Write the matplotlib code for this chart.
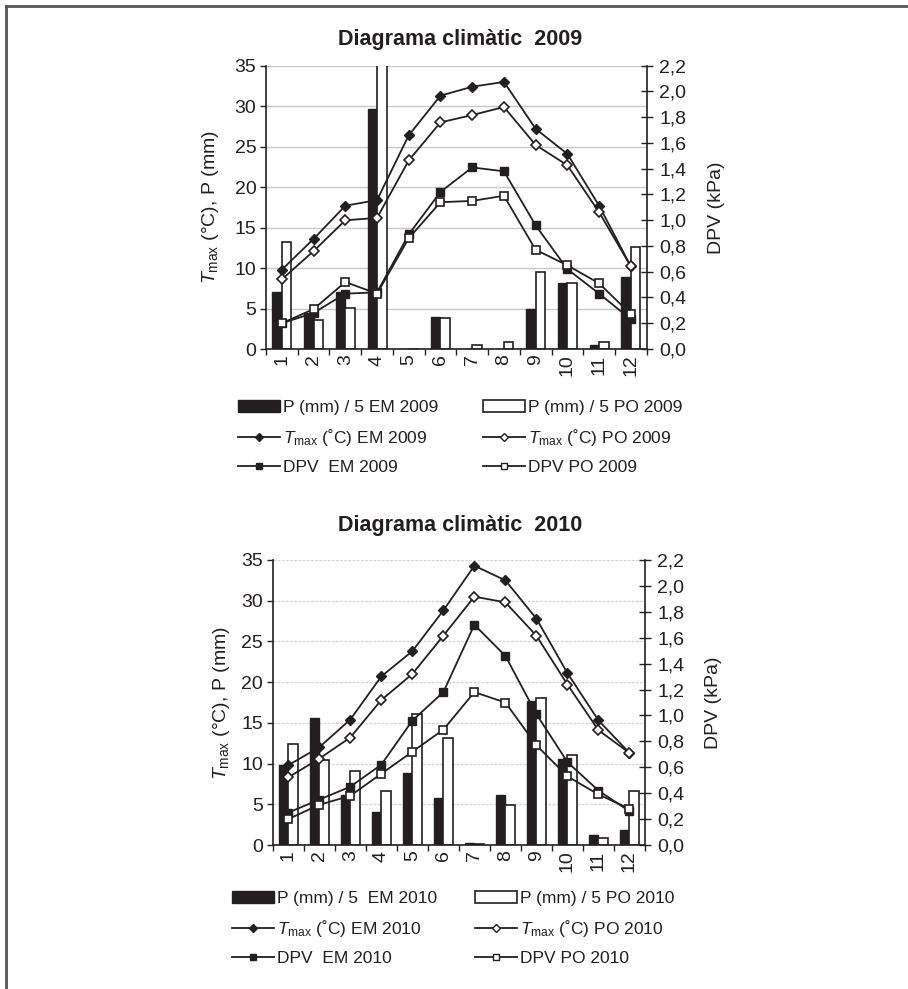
import numpy as np
import matplotlib
matplotlib.use("Agg")
import matplotlib.pyplot as plt
from matplotlib.lines import Line2D
from matplotlib.patches import Patch
from matplotlib.ticker import FuncFormatter, MultipleLocator

plt.rcParams['font.family'] = ['Liberation Sans', 'DejaVu Sans']
plt.rcParams['mathtext.fontset'] = 'custom'
plt.rcParams['mathtext.rm'] = 'Liberation Sans'
plt.rcParams['mathtext.it'] = 'Liberation Sans:italic'
plt.rcParams['mathtext.bf'] = 'Liberation Sans:bold'

months = ['1', '2', '3', '4', '5', '6', '7', '8', '9', '10', '11', '12']

# ---- 2009 ----
p_em_2009 = [7.0, 4.5, 7.0, 29.6, 0.0, 4.0, 0.0, 0.0, 4.9, 8.1, 0.5, 8.9]
p_po_2009 = [13.2, 3.6, 5.1, 40.0, 0.0, 3.8, 0.5, 0.9, 9.5, 8.1, 0.9, 12.6]
tmax_em_2009 = [9.8, 13.6, 17.7, 18.4, 26.4, 31.3, 32.4, 33.0, 27.2, 24.1, 17.7, 10.2]
tmax_po_2009 = [8.6, 12.1, 15.9, 16.2, 23.3, 28.0, 28.9, 29.9, 25.2, 22.7, 16.9, 10.2]
dpv_em_2009 = [0.20, 0.28, 0.43, 0.44, 0.89, 1.22, 1.41, 1.38, 0.96, 0.62, 0.43, 0.23]
dpv_po_2009 = [0.20, 0.31, 0.52, 0.43, 0.86, 1.14, 1.15, 1.19, 0.77, 0.65, 0.51, 0.27]

# ---- 2010 ----
p_em_2010 = [9.8, 15.6, 6.2, 4.0, 8.8, 5.8, 0.2, 6.2, 17.7, 10.6, 1.2, 1.8]
p_po_2010 = [12.4, 10.5, 9.1, 6.6, 16.1, 13.2, 0.1, 4.9, 18.0, 11.1, 0.8, 6.6]
tmax_em_2010 = [9.8, 12.0, 15.4, 20.7, 23.8, 28.8, 34.3, 32.5, 27.8, 21.1, 15.3, 11.3]
tmax_po_2010 = [8.3, 10.6, 13.2, 17.8, 21.0, 25.7, 30.5, 29.8, 25.7, 19.7, 14.1, 11.3]
dpv_em_2010 = [0.25, 0.35, 0.45, 0.62, 0.96, 1.18, 1.70, 1.46, 1.01, 0.64, 0.42, 0.26]
dpv_po_2010 = [0.20, 0.31, 0.38, 0.55, 0.72, 0.89, 1.18, 1.10, 0.77, 0.53, 0.39, 0.28]

ink = '#231f20'
W, H = 908, 989
fig = plt.figure(figsize=(W / 100, H / 100), dpi=100)

TICK_FS = 14
LAB_FS = 14
LEG_FS = 12.5


def fx(px):
    return px / W


def fy(py):
    return 1 - py / H


def make_chart(rect, p_em, p_po, t_em, t_po, d_em, d_po, title, title_y,
               ylab_x, y2lab_x, year, leg_left, leg_right, leg_top, em_gap,
               grid_ls, grid_c):
    ax = fig.add_axes(rect)
    x = np.arange(1, 13)
    bw = 0.3
    ax.bar(x - bw / 2, p_em, bw, color=ink, edgecolor=ink, lw=1.0, zorder=2)
    ax.bar(x + bw / 2, p_po, bw, color='white', edgecolor=ink, lw=1.2, zorder=2)
    ax.plot(x, t_em, color=ink, lw=1.3, marker='D', ms=5, mfc=ink, mec=ink, zorder=4)
    ax.plot(x, t_po, color=ink, lw=1.3, marker='D', ms=5, mfc='white', mec=ink, mew=1.2, zorder=4)
    ax.set_xlim(0.5, 12.5)
    ax.set_ylim(0, 35)
    ax.yaxis.set_major_locator(MultipleLocator(5))
    ax.yaxis.grid(True, color=grid_c, lw=1.0, ls=grid_ls)
    ax.set_axisbelow(True)
    ax.set_xticks(np.arange(0.5, 13, 1))
    ax.set_xticklabels([])
    ax.set_xticks(x, minor=True)
    ax.set_xticklabels(months, minor=True, rotation=90, fontsize=TICK_FS, color=ink)
    ax.tick_params(axis='x', which='major', direction='out', length=4, width=1, color=ink)
    ax.tick_params(axis='x', which='minor', length=0, pad=4)
    ax.tick_params(axis='y', direction='out', length=4, width=1, color=ink, labelsize=TICK_FS,
                   labelcolor=ink, pad=3)
    for s in ['top', 'right']:
        ax.spines[s].set_visible(False)
    for s in ['left', 'bottom']:
        ax.spines[s].set_color(ink)
        ax.spines[s].set_linewidth(1.2)
    ax.set_ylabel(r'$T_{\mathrm{max}}$ (°C), P (mm)', fontsize=LAB_FS, color=ink)
    ax.yaxis.set_label_coords(ylab_x, 0.5)

    ax2 = ax.twinx()
    ax2.plot(x, d_em, color=ink, lw=1.3, marker='s', ms=6, mfc=ink, mec=ink, zorder=4)
    ax2.plot(x, d_po, color=ink, lw=1.3, marker='s', ms=6, mfc='white', mec=ink, mew=1.2, zorder=4)
    ax2.set_ylim(0, 2.2)
    ax2.set_yticks(np.arange(0, 2.21, 0.2))
    ax2.yaxis.set_major_formatter(FuncFormatter(lambda v, p: f'{v:.1f}'.replace('.', ',')))
    ax2.tick_params(axis='y', direction='inout', length=8, width=1, color=ink, labelsize=TICK_FS,
                    labelcolor=ink, pad=5)
    for s in ['top', 'left', 'bottom']:
        ax2.spines[s].set_visible(False)
    ax2.spines['right'].set_color(ink)
    ax2.spines['right'].set_linewidth(1.2)
    ax2.set_ylabel('DPV (kPa)', fontsize=LAB_FS, color=ink)
    ax2.yaxis.set_label_coords(y2lab_x, 0.5)

    fig.text(fx(460), fy(title_y), title, fontsize=15.5, fontweight='bold', color=ink,
             ha='center', va='center')

    h_pem = Patch(facecolor=ink, edgecolor=ink)
    h_ppo = Patch(facecolor='white', edgecolor=ink, lw=1.2)
    h_tem = Line2D([], [], color=ink, lw=1.3, marker='D', ms=4, mfc=ink, mec=ink)
    h_tpo = Line2D([], [], color=ink, lw=1.3, marker='D', ms=4, mfc='white', mec=ink)
    h_dem = Line2D([], [], color=ink, lw=1.3, marker='s', ms=5, mfc=ink, mec=ink)
    h_dpo = Line2D([], [], color=ink, lw=1.3, marker='s', ms=5, mfc='white', mec=ink)
    kw = dict(loc='upper left', frameon=False, fontsize=LEG_FS, handlelength=2.4,
              handletextpad=0.2, labelspacing=0.68, borderpad=0, borderaxespad=0,
              labelcolor=ink)
    fig.legend([h_pem, h_tem, h_dem],
               [f'P (mm) / 5{em_gap}EM {year}',
                r'$T_{\mathrm{max}}$ (˚C) EM ' + year,
                f'DPV  EM {year}'],
               bbox_to_anchor=(fx(leg_left), fy(leg_top)), **kw)
    fig.legend([h_ppo, h_tpo, h_dpo],
               [f'P (mm) / 5 PO {year}',
                r'$T_{\mathrm{max}}$ (˚C) PO ' + year,
                f'DPV PO {year}'],
               bbox_to_anchor=(fx(leg_right), fy(leg_top)), **kw)
    return ax, ax2


# top chart: axes from x=266..646.7, y=65.7..349
make_chart([fx(266), fy(349), (646.7 - 266) / W, (349 - 65.7) / H],
           p_em_2009, p_po_2009, tmax_em_2009, tmax_po_2009, dpv_em_2009, dpv_po_2009,
           'Diagrama climàtic  2009', 40, -0.117, 1.16, '2009', 238, 483, 400, ' ',
           '-', '#c8c8c8')

# bottom chart: axes from x=272.7..645, y=560..845
make_chart([fx(272.7), fy(845), (645 - 272.7) / W, (845 - 560) / H],
           p_em_2010, p_po_2010, tmax_em_2010, tmax_po_2010, dpv_em_2010, dpv_po_2010,
           'Diagrama climàtic  2010', 525, -0.108, 1.16, '2010', 232, 475, 891, '  ',
           (0, (2, 1)), '#d6d6d6')

# outer frame (top and left edges)
fig.add_artist(Line2D([fx(6), fx(6)], [fy(6), 0], color='#555555', lw=2,
                      transform=fig.transFigure))
fig.add_artist(Line2D([fx(6), 1], [fy(6), fy(6)], color='#555555', lw=2,
                      transform=fig.transFigure))

fig.savefig('out.png', dpi=100)
